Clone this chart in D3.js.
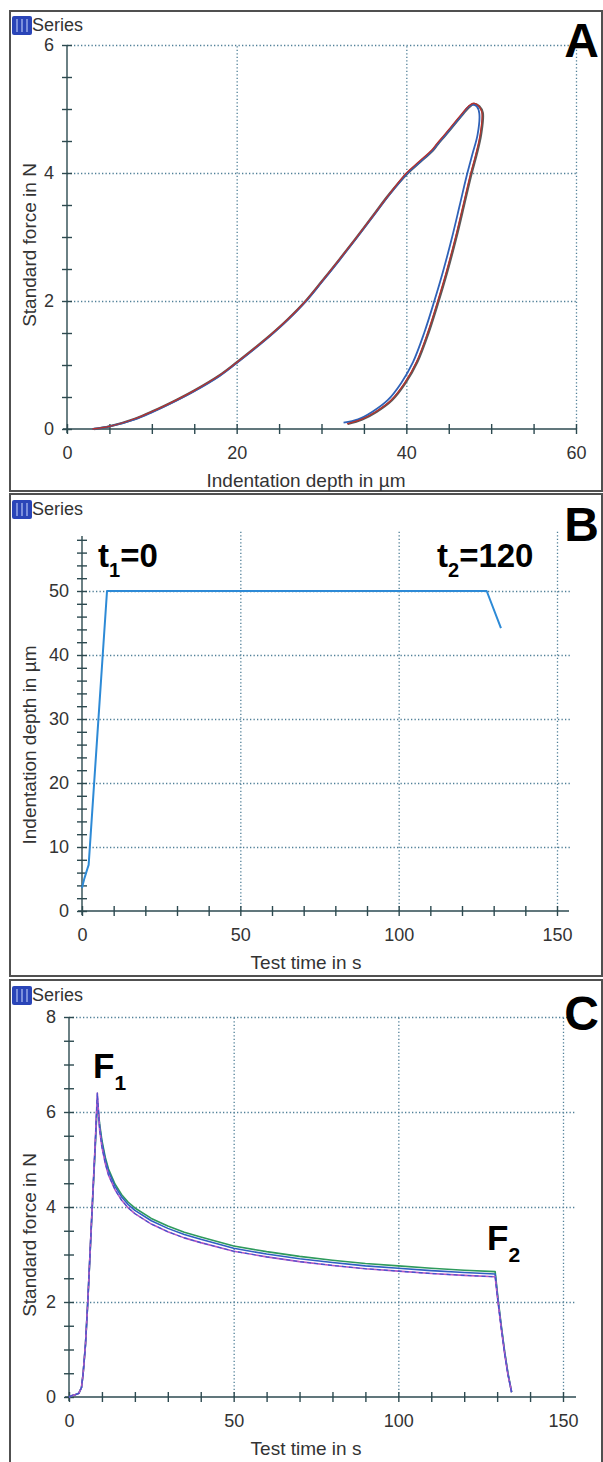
<!DOCTYPE html>
<html lang="en">
<head>
<meta charset="UTF-8">
<title>Indentation test - panels A, B, C</title>
<script src="https://d3js.org/d3.v7.min.js"></script>
<style>
    body { margin: 0; padding: 0; background: #fff; overflow: hidden; }
    svg { display: block; font-family: "Liberation Sans", Arial, sans-serif; }
    .grid line { stroke: #4f7f97; stroke-width: 1.3; stroke-dasharray: 1.3 2.2; }
    .grid path { display: none; }
    .axis path, .axis line { stroke: #2d4a50; stroke-width: 1.4; }
    .axis text { fill: #333; font-size: 18px; }
    .title { fill: #333; font-size: 19px; }
    .big { font-weight: bold; fill: #000; }
</style>
</head>
<body>
<div id="chart"></div>
<script>
// ---- panel A : force vs depth (loading + unloading loops)
const aDepthRed  = [3, 5, 8, 10, 13, 15, 18, 20, 22, 24, 26, 28, 30, 32, 34, 36, 38, 40, 41.5, 43, 43.6, 44.5, 45.5, 46.5, 47.3, 47.9, 48.5, 48.9, 48.7, 48.2, 47.5, 46.7, 45.8, 44.7, 43.7, 42.5, 41.2, 39.8, 38.2, 36.4, 34.7, 33.0];
const aForceRed  = [0, 0.04, 0.16, 0.27, 0.46, 0.6, 0.84, 1.04, 1.25, 1.47, 1.71, 1.98, 2.3, 2.63, 2.97, 3.32, 3.67, 4.0, 4.18, 4.36, 4.46, 4.6, 4.76, 4.92, 5.04, 5.09, 5.05, 4.95, 4.6, 4.3, 3.95, 3.5, 3.0, 2.45, 2.0, 1.5, 1.05, 0.72, 0.45, 0.27, 0.15, 0.08];
const aDepthBlue = [3, 5, 8, 10, 13, 15, 18, 20, 22, 24, 26, 28, 30, 32, 34, 36, 38, 40, 41.5, 43, 43.6, 44.5, 45.5, 46.5, 47.2, 47.8, 48.3, 48.6, 48.4, 47.8, 47.1, 46.3, 45.4, 44.3, 43.3, 42.1, 40.8, 39.4, 37.8, 36.0, 34.3, 32.6];
const aForceBlue = [0, 0.04, 0.15, 0.26, 0.45, 0.59, 0.83, 1.03, 1.24, 1.46, 1.7, 1.97, 2.29, 2.62, 2.96, 3.31, 3.66, 3.98, 4.16, 4.34, 4.44, 4.58, 4.74, 4.9, 5.02, 5.07, 5.04, 4.93, 4.6, 4.3, 3.95, 3.5, 3.0, 2.45, 2.0, 1.5, 1.05, 0.72, 0.45, 0.27, 0.15, 0.1];
const aDepthGray = [3.2, 5, 8, 10, 13, 15, 18, 20, 22, 24, 26, 28, 30, 32, 34, 36, 38, 40.1, 41.6, 43.1, 43.7, 44.6, 45.6, 46.6, 47.4, 48.0, 48.6, 49.0, 48.8, 48.3, 47.6, 46.8, 45.9, 44.8, 43.8, 42.6, 41.3, 39.9, 38.3, 36.5, 34.8, 33.1];
const aForceGray = [0, 0.04, 0.16, 0.27, 0.46, 0.6, 0.84, 1.04, 1.25, 1.47, 1.71, 1.98, 2.3, 2.63, 2.97, 3.32, 3.67, 3.99, 4.17, 4.35, 4.45, 4.59, 4.75, 4.91, 5.03, 5.08, 5.04, 4.94, 4.6, 4.3, 3.95, 3.5, 3.0, 2.45, 2.0, 1.5, 1.05, 0.72, 0.45, 0.27, 0.15, 0.08];
const aXTicks = [0, 20, 40, 60];
const aYTicks = [0, 2, 4, 6];

// ---- panel B : depth vs time
const bTime  = [0, 0.3, 0.7, 1.2, 1.7, 2.1, 7.9, 127.8, 132.3];
const bDepth = [3.6, 4.2, 5.0, 5.8, 6.6, 7.2, 50, 50, 44.2];
const bXTicks = [0, 50, 100, 150];
const bYTicks = [0, 10, 20, 30, 40, 50];

// ---- panel C : force relaxation vs time
const cTime        = [0, 1, 2, 3, 3.8, 4.3, 5, 5.7, 7, 8, 8.6, 9.3, 10, 11, 12, 14, 16, 18, 20, 25, 30, 35, 40, 50, 60, 70, 80, 90, 100, 110, 120, 129.4, 130.3, 131.3, 132.3, 133.3, 134.4];
const cForceGreen  = [0, 0.03, 0.05, 0.08, 0.2, 0.5, 1.1, 2.0, 3.9, 5.3, 6.2, 5.75, 5.4, 5.05, 4.8, 4.48, 4.26, 4.1, 3.98, 3.76, 3.6, 3.47, 3.37, 3.18, 3.06, 2.96, 2.88, 2.81, 2.76, 2.71, 2.67, 2.64, 2.05, 1.48, 0.95, 0.5, 0.1];
const cForceBlue   = [0, 0.03, 0.05, 0.08, 0.2, 0.5, 1.1, 2.0, 3.92, 5.35, 6.3, 5.7, 5.35, 5.0, 4.75, 4.43, 4.21, 4.05, 3.93, 3.71, 3.55, 3.42, 3.32, 3.13, 3.01, 2.91, 2.83, 2.76, 2.71, 2.66, 2.62, 2.59, 2.02, 1.45, 0.93, 0.48, 0.1];
const cForcePurple = [0, 0.03, 0.05, 0.08, 0.2, 0.5, 1.1, 2.0, 3.95, 5.4, 6.4, 5.62, 5.26, 4.92, 4.67, 4.36, 4.14, 3.98, 3.86, 3.64, 3.48, 3.35, 3.25, 3.07, 2.95, 2.85, 2.77, 2.70, 2.65, 2.6, 2.56, 2.53, 1.98, 1.42, 0.9, 0.46, 0.1];
const cXTicks = [0, 50, 100, 150];
const cYTicks = [0, 2, 4, 6, 8];

const W = 603, H = 1462;
const svg = d3.select("#chart").append("svg").attr("width", W).attr("height", H);

// panel frames
const frames = [[10, 11, 480], [10, 494, 482], [10, 980, 484]];
frames.forEach(f => {
    svg.append("rect").attr("x", f[0]).attr("y", f[1]).attr("width", 592).attr("height", f[2])
        .attr("fill", "none").attr("stroke", "#505050").attr("stroke-width", 2);
});

function legend(y) {
    const g = svg.append("g").attr("transform", `translate(12,${y})`);
    g.append("rect").attr("width", 20).attr("height", 19).attr("fill", "#2a45b8").attr("rx", 2);
    [5, 10, 15].forEach(xx => g.append("line").attr("x1", xx).attr("x2", xx).attr("y1", 3).attr("y2", 16)
        .attr("stroke", "#a9b8f0").attr("stroke-width", 1.3));
    g.append("text").attr("x", 20).attr("y", 15).attr("font-size", 18).attr("fill", "#333").text("Series");
}

function panel(o) {
    const x = d3.scaleLinear().domain(o.xDomain).range(o.xRange);
    const y = d3.scaleLinear().domain(o.yDomain).range(o.yRange);
    const g = svg.append("g");
    const y0 = y(0), x0 = x(0);
    const fmt = d3.format("d");

    // grid
    g.append("g").attr("class", "grid").attr("transform", `translate(0,${y0})`)
        .call(d3.axisBottom(x).tickValues(o.xTicks.filter(v => v > 0)).tickSize(-(y0 - o.gridTop)).tickFormat(""));
    g.append("g").attr("class", "grid").attr("transform", `translate(${x0},0)`)
        .call(d3.axisLeft(y).tickValues(o.yTicks.filter(v => v > 0)).tickSize(-(o.gridRight - x0)).tickFormat(""));

    // axis lines
    g.append("line").attr("x1", x0 - 4).attr("x2", o.xAxisEnd).attr("y1", y0).attr("y2", y0)
        .attr("stroke", "#2d4a50").attr("stroke-width", 1.4);
    g.append("line").attr("x1", x0).attr("x2", x0).attr("y1", y0 + 4).attr("y2", o.yAxisTop)
        .attr("stroke", "#2d4a50").attr("stroke-width", 1.4);

    // minor + major ticks crossing the axes
    g.append("g").attr("class", "axis").attr("transform", `translate(0,${y0 - 5})`)
        .call(d3.axisBottom(x).tickValues(o.xMinor).tickSize(10).tickFormat(""))
        .select(".domain").remove();
    g.append("g").attr("class", "axis").attr("transform", `translate(${x0 + 5},0)`)
        .call(d3.axisLeft(y).tickValues(o.yMinor).tickSize(10).tickFormat(""))
        .select(".domain").remove();

    // tick labels
    g.append("g").attr("class", "axis").attr("transform", `translate(0,${y0})`)
        .call(d3.axisBottom(x).tickValues(o.xTicks).tickFormat(fmt).tickSize(0).tickPadding(17))
        .select(".domain").remove();
    g.append("g").attr("class", "axis").attr("transform", `translate(${x0},0)`)
        .call(d3.axisLeft(y).tickValues(o.yTicks).tickFormat(fmt).tickSize(0).tickPadding(13))
        .select(".domain").remove();

    // titles
    g.append("text").attr("class", "title").attr("text-anchor", "middle")
        .attr("x", 306).attr("y", y0 + 58).text(o.xTitle);
    g.append("text").attr("class", "title").attr("text-anchor", "middle")
        .attr("transform", `translate(${o.yTitleX},${o.yTitleY}) rotate(-90)`).text(o.yTitle);

    const line = d3.line().x(d => x(d[0])).y(d => y(d[1])).curve(o.curve || d3.curveLinear);
    o.series.forEach(s => {
        g.append("path").datum(d3.zip(s.xs, s.ys)).attr("d", line)
            .attr("fill", "none").attr("stroke", s.color).attr("stroke-width", s.width || 1.6)
            .attr("stroke-dasharray", s.dash || null).attr("stroke-linejoin", "round");
    });
    return { x, y };
}

// ---------- A
legend(16);
panel({
    xDomain: [0, 60], xRange: [67, 576], yDomain: [0, 6], yRange: [429, 45],
    xTicks: aXTicks, yTicks: aYTicks,
    xMinor: d3.range(0, 61, 5), yMinor: d3.range(0, 6.01, 0.5),
    xAxisEnd: 576, yAxisTop: 45, gridTop: 45, gridRight: 576,
    xTitle: "Indentation depth in \u00b5m",
    yTitle: "Standard force in N", yTitleX: 36, yTitleY: 245,
    curve: d3.curveCatmullRom.alpha(0.5),
    series: [
        { xs: aDepthGray, ys: aForceGray, color: "#5a5a5a", width: 2.4 },
        { xs: aDepthBlue, ys: aForceBlue, color: "#2f62b8", width: 1.8 },
        { xs: aDepthRed, ys: aForceRed, color: "#b8322c", width: 1.3 }
    ]
});
svg.append("text").attr("class", "big").attr("x", 599).attr("y", 57).attr("text-anchor", "end")
    .attr("font-size", 48).text("A");

// ---------- B
legend(500);
panel({
    xDomain: [0, 150], xRange: [82, 557], yDomain: [0, 50], yRange: [911, 591],
    xTicks: bXTicks, yTicks: bYTicks,
    xMinor: d3.range(0, 151, 10), yMinor: d3.range(0, 58.1, 2),
    xAxisEnd: 569, yAxisTop: 536, gridTop: 530, gridRight: 570,
    xTitle: "Test time in s",
    yTitle: "Indentation depth in \u00b5m", yTitleX: 36, yTitleY: 745,
    series: [{ xs: bTime, ys: bDepth, color: "#2d8ad6", width: 2 }]
});
svg.append("text").attr("class", "big").attr("x", 599).attr("y", 541).attr("text-anchor", "end")
    .attr("font-size", 48).text("B");
const t1 = svg.append("text").attr("class", "big").attr("x", 98).attr("y", 567).attr("font-size", 33);
t1.append("tspan").text("t");
t1.append("tspan").attr("font-size", 20).attr("dy", 10).text("1");
t1.append("tspan").attr("dy", -10).text("=0");
const t2 = svg.append("text").attr("class", "big").attr("x", 437).attr("y", 567).attr("font-size", 33);
t2.append("tspan").text("t");
t2.append("tspan").attr("font-size", 20).attr("dy", 10).text("2");
t2.append("tspan").attr("dy", -10).text("=120");

// ---------- C
legend(986);
panel({
    xDomain: [0, 150], xRange: [69, 563], yDomain: [0, 8], yRange: [1397, 1017],
    xTicks: cXTicks, yTicks: cYTicks,
    xMinor: d3.range(0, 151, 10), yMinor: d3.range(0, 8.01, 0.5),
    xAxisEnd: 576, yAxisTop: 1017, gridTop: 1017, gridRight: 576,
    xTitle: "Test time in s",
    yTitle: "Standard force in N", yTitleX: 36, yTitleY: 1235,
    series: [
        { xs: cTime, ys: cForceGreen, color: "#2e9a5c", width: 1.6 },
        { xs: cTime, ys: cForceBlue, color: "#2f5fc2", width: 1.6 },
        { xs: cTime, ys: cForcePurple, color: "#b357c4", width: 1.6 },
        { xs: cTime, ys: cForcePurple, color: "#3a56d0", width: 1.1, dash: "4 3" }
    ]
});
svg.append("text").attr("class", "big").attr("x", 599).attr("y", 1030).attr("text-anchor", "end")
    .attr("font-size", 48).text("C");
const f1 = svg.append("text").attr("class", "big").attr("x", 93).attr("y", 1078).attr("font-size", 35);
f1.append("tspan").text("F");
f1.append("tspan").attr("font-size", 21).attr("dy", 12).text("1");
const f2 = svg.append("text").attr("class", "big").attr("x", 487).attr("y", 1250).attr("font-size", 35);
f2.append("tspan").text("F");
f2.append("tspan").attr("font-size", 21).attr("dy", 12).text("2");
</script>
</body>
</html>
